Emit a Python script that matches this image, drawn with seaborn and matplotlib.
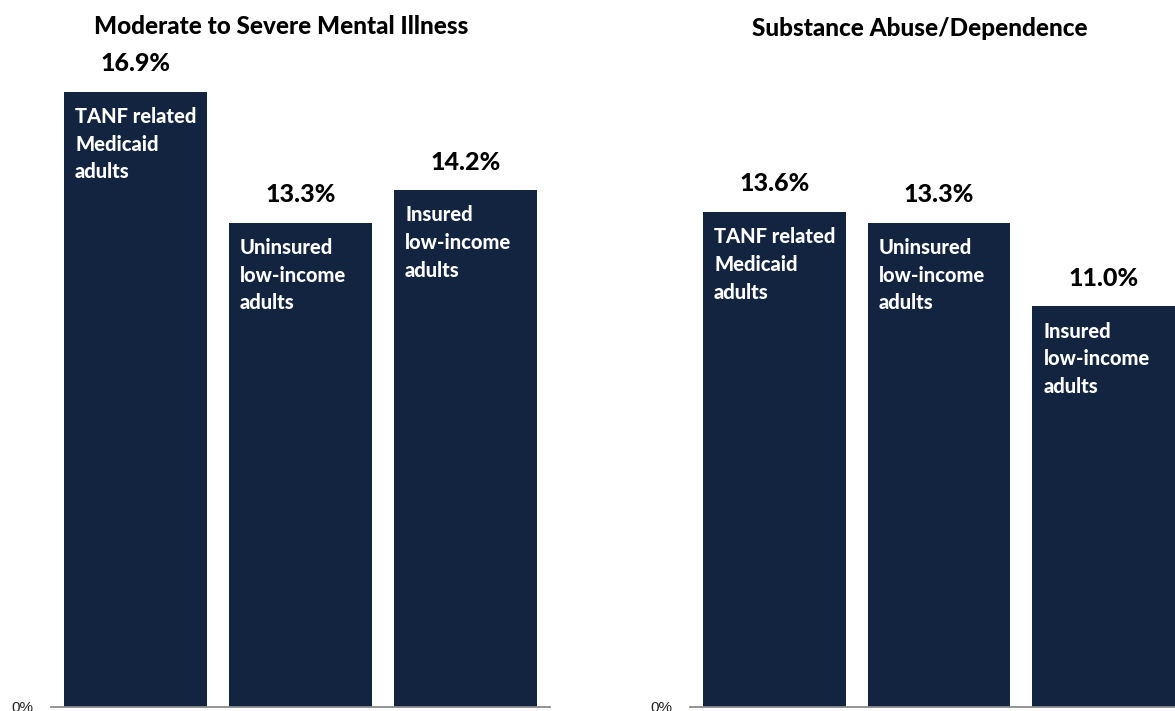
import matplotlib
matplotlib.use("Agg")
import matplotlib.pyplot as plt
import seaborn as sns
import pandas as pd

# ---- data ----
groups = ["TANF related\nMedicaid\nadults", "Uninsured\nlow-income\nadults", "Insured\nlow-income\nadults"]
mental_illness = [16.9, 13.3, 14.2]
substance_abuse = [13.6, 13.3, 11.0]
panel_titles = ["Moderate to Severe Mental Illness", "Substance Abuse/Dependence"]

BAR = "#132440"
AXIS = "#8c8c8c"
FONT = ["Lato", "DejaVu Sans"]
WEIGHT = 900

sns.set_theme(style="white")
plt.rcParams["font.family"] = FONT

W, H = 1175, 711
fig = plt.figure(figsize=(W / 100, H / 100), dpi=100)

base_px = 706.7
px_per_unit = 36.4
ymax = 19.0
ax_h = ymax * px_per_unit

panels = [
    (51, 550, mental_illness, panel_titles[0], 281, 26),
    (690, 1188, substance_abuse, panel_titles[1], 920, 29),
]

for (x0, x1, vals, title, tx, ty) in panels:
    ax = fig.add_axes([x0 / W, (H - base_px) / H, (x1 - x0) / W, ax_h / H])
    df = pd.DataFrame({"group": groups, "value": vals})
    sns.barplot(data=df, x="group", y="value", color=BAR, saturation=1,
                width=0.867, ax=ax, errorbar=None, linewidth=0)
    ax.set_xlim(-0.512, 2.512)
    ax.set_ylim(0, ymax)
    ax.set_xlabel("")
    ax.set_ylabel("")
    ax.set_xticks([])
    ax.set_yticks([0])
    ax.set_yticklabels(["0%"], family=["Liberation Sans"], fontsize=11, color="#222222")
    ax.tick_params(axis="y", length=0, pad=13)
    for s in ["top", "right", "left"]:
        ax.spines[s].set_visible(False)
    ax.spines["bottom"].set_color(AXIS)
    ax.spines["bottom"].set_linewidth(1.3)

    for patch, v, g in zip(ax.patches, vals, groups):
        cx = patch.get_x() + patch.get_width() / 2
        top = patch.get_height()
        ax.annotate(f"{v:.1f}%", xy=(cx, top), xytext=(0, 20), textcoords="offset points",
                    ha="center", va="center", fontsize=18, fontweight=WEIGHT, color="black")
        ax.annotate(g, xy=(patch.get_x(), top), xytext=(8, -11), textcoords="offset points",
                    ha="left", va="top", fontsize=14.5, fontweight=WEIGHT, color="white",
                    linespacing=1.55)

    fig.text(tx / W, 1 - ty / H, title, ha="center", va="center",
             fontsize=17.5, fontweight=WEIGHT, color="black")

fig.savefig("out.png", dpi=100)
